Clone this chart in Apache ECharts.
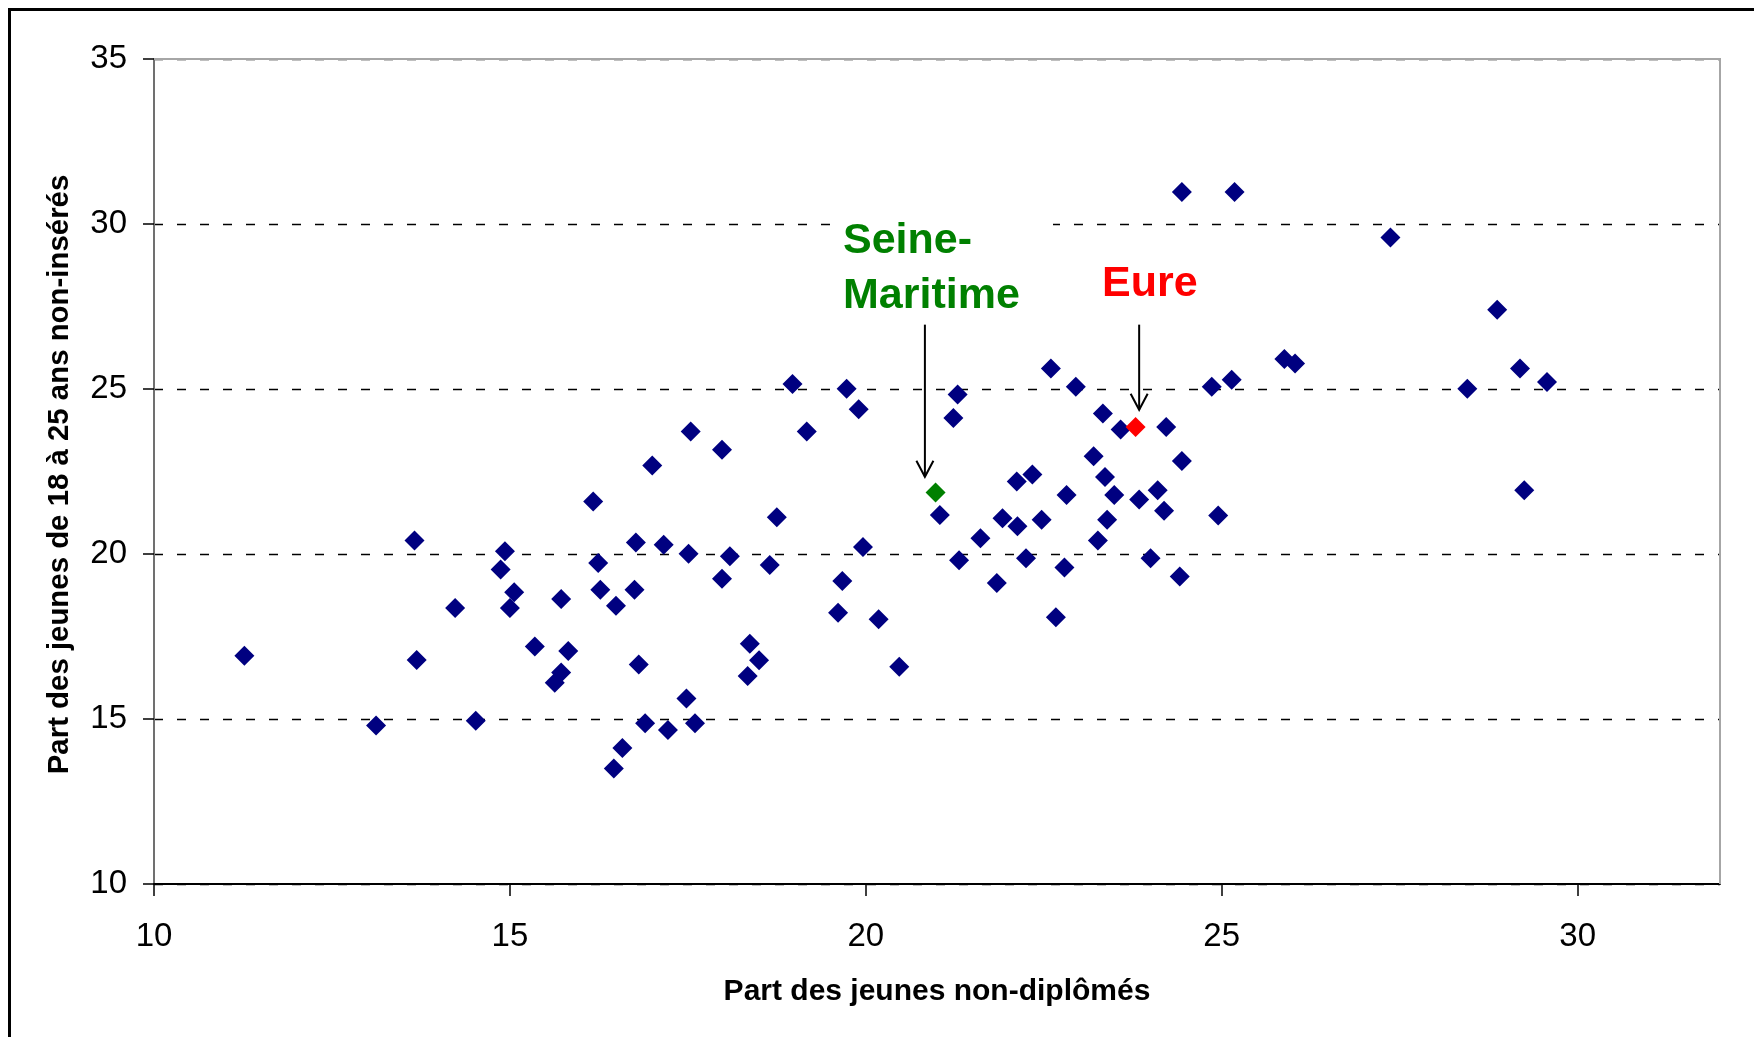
<!DOCTYPE html>
<html><head><meta charset="utf-8">
<script src="https://cdn.jsdelivr.net/npm/echarts@6/dist/echarts.min.js"></script>
<style>html,body{margin:0;padding:0;background:#fff}#c{width:1754px;height:1037px}</style>
</head><body><div id="c"></div><script>
// Part des jeunes non-diplômés (x) — départements
const nonDiplomes = [
  11.27, 13.66, 14.93, 14.87, 15.06, 15.00, 14.23, 13.69, 15.35, 13.12, 14.52, 15.63,
  18.97, 19.73, 19.90, 19.17, 17.54, 17.98, 17.00, 16.17, 18.75, 21.04, 21.29, 21.23,
  21.31, 16.77, 17.16, 17.51, 18.09, 16.24, 18.65, 17.98, 19.96, 19.67, 15.72, 16.27,
  16.75, 16.49, 19.61, 20.18, 15.82, 18.37, 18.50, 18.34, 16.81, 20.47, 15.72, 17.48,
  16.90, 17.22, 17.60, 16.58, 16.46,
  24.44, 25.18, 22.60, 22.95, 24.86, 25.14, 25.88, 26.03, 23.33, 23.58, 24.22, 23.20,
  24.44, 23.36, 22.34, 22.12, 22.82, 23.49, 24.10, 23.84, 24.19, 24.95, 21.92, 22.13,
  22.47, 23.39, 21.61, 23.26, 22.25, 24.00, 22.79, 24.41, 21.84, 22.67,
  27.37, 28.87, 29.19, 29.57, 28.45, 29.25
];
// Part des jeunes de 18 à 25 ans non-insérés (y)
const nonInseres = [
  16.92, 20.41, 20.08, 19.53, 18.84, 18.36, 18.36, 16.79, 17.20, 14.80, 14.95, 16.10,
  25.15, 25.01, 24.39, 23.71, 23.71, 23.16, 22.68, 21.59, 21.11, 21.18, 24.83, 24.12,
  19.81, 20.35, 20.28, 20.01, 19.93, 19.73, 19.67, 19.25, 20.21, 19.18, 18.64, 18.92,
  18.92, 18.43, 18.22, 18.02, 17.06, 17.28, 16.78, 16.30, 16.65, 16.58, 16.41, 15.62,
  14.87, 14.67, 14.87, 14.12, 13.50,
  30.97, 30.97, 25.62, 25.07, 25.07, 25.28, 25.91, 25.77, 24.26, 23.77, 23.85, 22.96,
  22.82, 22.33, 22.41, 22.20, 21.79, 21.79, 21.93, 21.65, 21.31, 21.17, 21.08, 20.84,
  21.04, 21.04, 20.48, 20.41, 19.87, 19.87, 19.59, 19.32, 19.12, 18.08,
  29.59, 27.40, 25.62, 25.21, 25.01, 21.93
];
const seineMaritime = [20.98, 21.86];
const eure = [23.79, 23.85];
const xTicks = [10, 15, 20, 25, 30];
const yTicks = [10, 15, 20, 25, 30, 35];
const xTitle = 'Part des jeunes non-diplômés';
const yTitle = 'Part des jeunes de 18 à 25 ans non-insérés';
const labelSeine = 'Seine-\nMaritime';
const labelEure = 'Eure';
// annotation arrows (x value, tail y value, tip y value)
const arrowSeine = [20.83, 26.95, 22.34];
const arrowEure = [23.84, 26.95, 24.37];

const FONT = "'Liberation Sans', Arial, sans-serif";
const points = nonDiplomes.map((x, i) => [x, nonInseres[i]]);

const chart = echarts.init(document.getElementById('c'), null, {renderer: 'canvas'});
chart.setOption({
  animation: false,
  backgroundColor: '#ffffff',
  grid: {left: 154, right: 34, top: 59, bottom: 153, containLabel: false, outerBoundsMode: 'none'},
  xAxis: {
    type: 'value', min: 10, max: 32,
    name: xTitle, nameLocation: 'middle', nameGap: 93,
    nameTextStyle: {fontFamily: FONT, fontSize: 30, fontWeight: 'bold', color: '#000'},
    axisLine: {show: true, lineStyle: {color: '#000', width: 2}},
    axisTick: {show: true, length: 12, customValues: xTicks, lineStyle: {color: '#000', width: 1.5}},
    axisLabel: {customValues: xTicks, margin: 36, fontFamily: FONT, fontSize: 33, color: '#000'},
    splitLine: {show: false}
  },
  yAxis: {
    type: 'value', min: 10, max: 35, interval: 5,
    name: yTitle, nameLocation: 'middle', nameGap: 80, nameRotate: 90,
    nameTextStyle: {fontFamily: FONT, fontSize: 29.4, fontWeight: 'bold', color: '#000', padding: [0, 6, 0, 0]},
    axisLine: {show: true, lineStyle: {color: '#707070', width: 2}},
    axisTick: {show: true, length: 11, customValues: yTicks, lineStyle: {color: '#000', width: 1.5}},
    axisLabel: {customValues: yTicks, margin: 27, fontFamily: FONT, fontSize: 33, color: '#000'},
    splitLine: {show: true, lineStyle: {color: '#000', width: 1.3, type: [9, 14]}}
  },
  series: [
    {type: 'scatter', name: 'Départements', data: points, symbol: 'diamond', symbolSize: 20,
     itemStyle: {color: '#000080', opacity: 1}, z: 2},
    {type: 'scatter', name: 'Seine-Maritime', data: [seineMaritime], symbol: 'diamond', symbolSize: 20,
     itemStyle: {color: '#008000', opacity: 1}, z: 3},
    {type: 'scatter', name: 'Eure', data: [eure], symbol: 'diamond', symbolSize: 20,
     itemStyle: {color: '#ff0000', opacity: 1}, z: 4}
  ]
});

function arrow(a) {
  const tail = chart.convertToPixel({gridIndex: 0}, [a[0], a[1]]);
  const tip = chart.convertToPixel({gridIndex: 0}, [a[0], a[2]]);
  return [
    {type: 'line', z: 10, shape: {x1: tail[0], y1: tail[1], x2: tip[0], y2: tip[1]},
     style: {stroke: '#000', lineWidth: 2}},
    {type: 'polyline', z: 10, shape: {points: [[tip[0] - 8.5, tip[1] - 16], [tip[0], tip[1]], [tip[0] + 8.5, tip[1] - 16]]},
     style: {stroke: '#000', lineWidth: 2, fill: null}}
  ];
}
const tl = chart.convertToPixel({gridIndex: 0}, [10, 35]);
const br = chart.convertToPixel({gridIndex: 0}, [32, 10]);
chart.setOption({
  graphic: [
    {type: 'rect', z: 1, silent: true, shape: {x: 9.5, y: 9.5, width: 1800, height: 1100},
     style: {fill: null, stroke: '#000', lineWidth: 3}},
    {type: 'polyline', z: 1, silent: true, shape: {points: [[tl[0], tl[1]], [br[0], tl[1]], [br[0], br[1]]]},
     style: {stroke: '#a6a6a6', lineWidth: 2, fill: null}},
    {type: 'rect', z: 5, silent: true, shape: {x: 832, y: 200, width: 221, height: 118},
     style: {fill: '#ffffff', stroke: null}},
    {type: 'text', z: 6, silent: true, x: 843, y: 213.5,
     style: {text: labelSeine, fill: '#008000', font: 'bold 43px ' + FONT, lineHeight: 55, verticalAlign: 'top', align: 'left'}},
    {type: 'text', z: 6, silent: true, x: 1102, y: 284.5,
     style: {text: labelEure, fill: '#ff0000', font: 'bold 43px ' + FONT, verticalAlign: 'middle', align: 'left'}},
    ...arrow(arrowSeine),
    ...arrow(arrowEure)
  ]
});
</script></body></html>
